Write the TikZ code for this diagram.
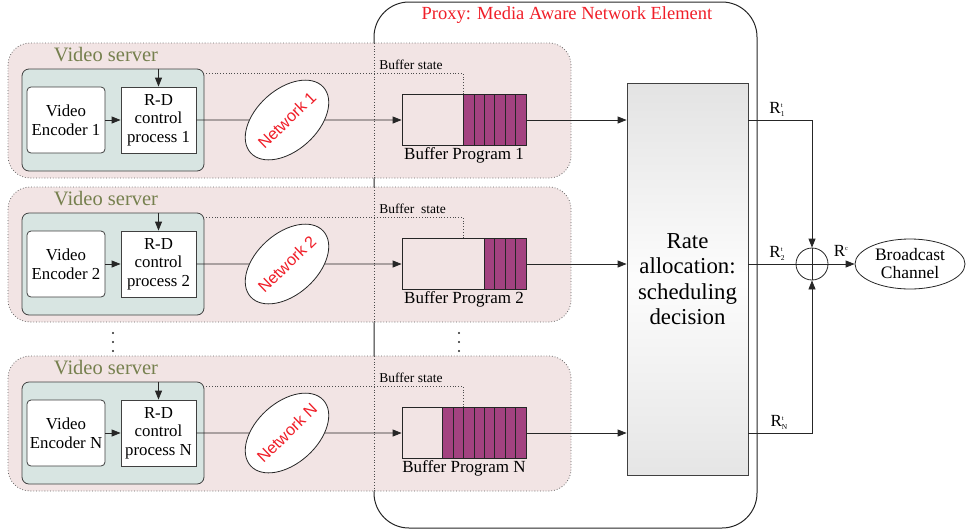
\documentclass[tikz,border=0pt]{standalone}
\usepackage{fontspec}
\setmainfont{Liberation Serif}
\newfontfamily\netfont{Liberation Sans}
\usetikzlibrary{shapes.geometric,arrows.meta,positioning}

\definecolor{panelpink}{RGB}{242,228,228}
\definecolor{servergreen}{RGB}{216,229,226}
\definecolor{olivetext}{RGB}{118,128,78}
\definecolor{queuepurple}{RGB}{163,66,128}
\definecolor{proxyred}{RGB}{240,30,40}

\newcommand{\ratelbl}[2]{R\makebox[0pt][l]{\raisebox{6pt}{\fontsize{6.5}{6.5}\selectfont #2}}\raisebox{-3pt}{\fontsize{7.5}{7.5}\selectfont #1}}

\tikzset{
  every path/.style={line width=0.8pt},
  arr/.style={draw=black!85, -{Triangle[width=7pt,length=9pt]}},
  conn/.style={draw=black!85},
  panel/.style={draw=black!60, dotted, fill=panelpink, rounded corners=22},
  srvbox/.style={draw=black!75, fill=servergreen, rounded corners=7,
    minimum width=182, minimum height=102, inner sep=0},
  blockbox/.style={draw=black!75, fill=white, minimum width=78, minimum height=66,
    align=center, inner sep=0.5, font=\fontsize{16.8}{18.5}\selectfont},
  netnode/.style={ellipse, draw=black!85, fill=white, rotate=42,
    minimum width=98, minimum height=61, inner sep=0},
  nettext/.style={rotate=44, inner sep=0, text=proxyred,
    font=\netfont\fontsize{16.3}{18}\selectfont},
  srvlabel/.style={text=olivetext, font=\fontsize{20.5}{23}\selectfont},
  cell/.style={draw=black!85, fill=queuepurple},
  fb/.style={draw=black!70, dotted},
  txt/.style={font=\fontsize{17}{18.5}\selectfont, inner sep=1},
}

\begin{document}
\begin{tikzpicture}[x=1pt,y=-1pt]
\useasboundingbox (0,0) rectangle (966,531);

% proxy outline
\draw[draw=black!85, line width=1pt, rounded corners=35] (374,2) rectangle (757,528);
\node[text=proxyred, font=\fontsize{18.5}{21}\selectfont] (proxylab) at (567,15)
  {Proxy: Media Aware Network Element};

% rate allocation block
\node[draw=black!75, top color=black!11, bottom color=black!10, middle color=black!1,
  minimum width=121, minimum height=392, align=center,
  font=\fontsize{22.8}{25.5}\selectfont] (rate) at (687.5,279)
  {Rate\\allocation:\\scheduling\\decision};

% one row per video server
\foreach \r/\Y/\c/\n/\st in {1/120/6/1/{Buffer state}, 2/264/4/2/{Buffer\ \ state}, N/433/8/N/{Buffer state}} {
  \draw[panel] (8,\Y-77) rectangle (571,\Y+58);
  \draw[fb] (374,\Y-77) -- (374,\Y+58);
  \node[srvlabel] (lab\r) at (106,\Y-65) {Video server};
  \node[srvbox] (srv\r) at (113,\Y) {};
  \node[blockbox, rounded corners=4] (enc\r) at (66,\Y) {Video\\Encoder \n};
  \node[blockbox, minimum width=75] (rd\r) at (158.5,\Y) {R-D\\control\\process \n};
  \node[netnode] (net\r) at (287,\Y) {};
  \node[nettext] (nt\r) at (net\r) {Network \n};
  \node[draw=black!85, minimum width=124, minimum height=51, inner sep=0] (buf\r) at (464,\Y) {};
  \foreach \k in {1,...,\c}
    \draw[cell] (526-\k*10.4,\Y-25.5) rectangle ++(10.4,51);
  \node[txt, below=0.5pt of buf\r] (bp\r) {Buffer Program \n};
  \node[anchor=west, inner sep=0, font=\fontsize{13.5}{15}\selectfont] (bs\r) at (379,\Y-55) {\st};
  \coordinate (st\r) at (463,\Y-47);
  % connectors
  \draw[arr] (enc\r) -- (rd\r);
  \draw[conn] (rd\r) -- (net\r);
  \draw[arr] (net\r) -- (buf\r);
  \draw[arr] (buf\r) -- (rate.west |- buf\r);
  \draw[fb] (buf\r.north -| st\r) -- (st\r) -- (srv\r.east |- st\r);
  \draw[arr] (rd\r.north |- srv\r.north) -- (rd\r.north);
}

% dots between rows
\foreach \x in {113,459}
  \foreach \y in {333,342,351}
    \fill[black!85] (\x,\y) circle (1.1);

% combining the rates
\node[circle, draw=black!85, minimum size=32, inner sep=0] (sum) at (812,264) {};
\draw[conn] (sum.north) -- (sum.south) (sum.west) -- (sum.east);
\node[ellipse, draw=black!85, minimum width=110, minimum height=50, inner sep=0,
  align=center, font=\fontsize{17.5}{18}\selectfont] (bc) at (910,264) {Broadcast\\Channel};

\draw[arr] (rate.east |- buf1) -| (sum.north);
\draw[conn] (rate.east |- sum) -- (sum.west);
\draw[arr] (rate.east |- bufN) -| (sum.south);
\draw[arr] (sum.east) -- (bc.west);

\node[txt] (r1) at (777,109) {\ratelbl{1}{t}};
\node[txt] (r2) at (777,253) {\ratelbl{2}{t}};
\node[txt] (rN) at (779,422) {\ratelbl{N}{t}};
\node[txt] (rc) at (841,251) {R\raisebox{6pt}{\fontsize{6.5}{6.5}\selectfont c}};
\end{tikzpicture}
\end{document}
